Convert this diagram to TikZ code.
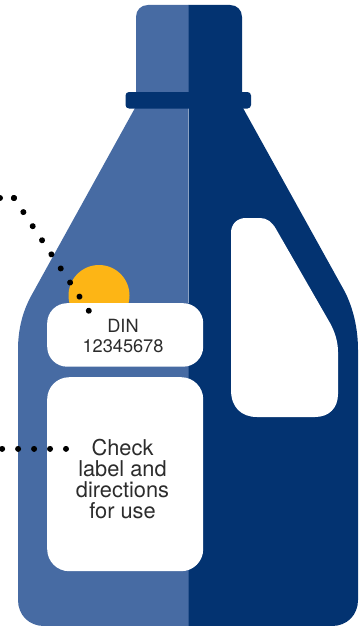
\documentclass[tikz,border=0pt]{standalone}
\usepackage{fontspec}
\setmainfont{TeX Gyre Heros}
\definecolor{lightblue}{HTML}{476BA3}
\definecolor{darkblue}{HTML}{033371}
\definecolor{amber}{HTML}{FDB515}
\definecolor{inktext}{HTML}{2C2C2C}
\tikzset{
  labelbox/.style={fill=white,draw=none,rounded corners=#1,minimum width=156pt,inner sep=0pt,anchor=north west},
  labeltext/.style={text=inktext,align=center,anchor=north,inner sep=0pt},
  dotline/.style={line width=6pt,line cap=round,black,dash pattern=on 0.01pt off #1}
}
\begin{document}
\begin{tikzpicture}[x=1pt,y=-1pt]
\useasboundingbox (0,0) rectangle (360,626);
% left half
\fill[lightblue] (189,5) -- (148,5) .. controls (141,5) and (136,10) .. (136,17) -- (136,108) -- (135,108) -- (30,298)
  .. controls (23,312) and (18,328) .. (18,350) -- (18,600) .. controls (18,615) and (29,626) .. (44,626) -- (189,626) -- cycle;
% right half
\fill[darkblue] (188.5,5) -- (230,5) .. controls (237,5) and (242,10) .. (242,17) -- (242,108) -- (243,108) -- (345,292)
  .. controls (353,308) and (358,328) .. (358,350) -- (358,600) .. controls (358,615) and (347,626) .. (332,626) -- (188.5,626) -- cycle;
% seam
\draw[white,opacity=.45,line width=.7pt] (188.3,108) -- (188.3,303);
% collar
\fill[darkblue,rounded corners=3.5pt] (125.5,92) rectangle (251,108.5);
% window
\fill[white] (231,233) .. controls (231,224) and (237,218) .. (246,218) -- (260,218)
  .. controls (267,218) and (272,222) .. (276,229) -- (330,323)
  .. controls (335,332) and (338,342) .. (338,352) -- (338,394)
  .. controls (338,408) and (329,417) .. (315,417) -- (257,417)
  .. controls (241,417) and (231,407) .. (231,390) -- cycle;
% seal
\fill[amber] (99,295.5) circle[radius=30.5];
% labels
\node[labelbox=20pt,minimum height=63.5pt] (din) at (47,303) {};
\node[labeltext,font=\fontsize{18.2}{19.8}\selectfont] (dintext) at (123,319.5) {DIN\\12345678};
\node[labelbox=22pt,minimum height=194pt] (check) at (47,377) {};
\node[labeltext,font=\fontsize{21.8}{20.8}\selectfont] (checktext) at (122.5,439.3) {Check\\label and\\directions\\for use};
% dotted leaders
\coordinate (a0) at (0,198);
\coordinate (a1) at (14,198);
\coordinate (a2) at (89,311);
\coordinate (b0) at (2,448.5);
\coordinate (b1) at (66,448.5);
\draw[dotline=13.9pt] (a0) -- (a1);
\draw[dotline=16.9pt] (a1) -- (a2);
\draw[dotline=15.95pt] (b1) -- (b0);
\end{tikzpicture}
\end{document}
